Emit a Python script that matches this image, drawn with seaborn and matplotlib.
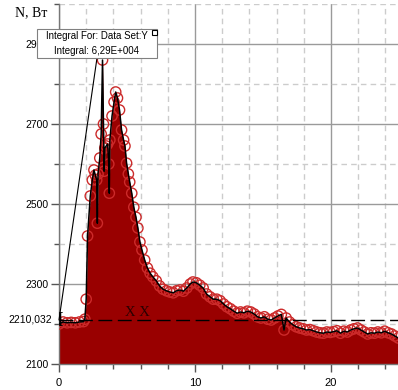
import numpy as np
import pandas as pd
import matplotlib
matplotlib.use("Agg")
import matplotlib.pyplot as plt
import matplotlib.transforms as mtransforms
from matplotlib.patches import Rectangle
import seaborn as sns

# ---- data ----
t_values = [0.0, 0.3, 0.6, 0.9, 1.2, 1.5, 1.8, 1.9, 2.0, 2.1, 2.3, 2.45, 2.57, 2.67,
            2.77, 2.82, 2.87, 3.0, 3.1, 3.2, 3.27, 3.32, 3.37, 3.47, 3.58, 3.66,
            3.7, 3.74, 3.9, 4.05, 4.17, 4.3, 4.45, 4.6, 4.75, 4.85, 4.97, 5.1, 5.2,
            5.35, 5.5, 5.66, 5.8, 5.95, 6.1, 6.3, 6.5, 6.7, 6.9, 7.15, 7.4, 7.65,
            7.9, 8.15, 8.4, 8.65, 8.9, 9.15, 9.4, 9.65, 9.85, 10.1, 10.35, 10.6,
            10.85, 11.1, 11.35, 11.6, 11.85, 12.1, 12.35, 12.6, 12.85, 13.1, 13.35,
            13.6, 13.85, 14.1, 14.35, 14.6, 14.85, 15.1, 15.35, 15.6, 15.85, 16.1,
            16.35, 16.55, 16.7, 16.95, 17.2, 17.45, 17.7, 17.95, 18.2, 18.45, 18.7,
            18.95, 19.2, 19.45, 19.7, 19.95, 20.2, 20.45, 20.7, 20.95, 21.2, 21.45,
            21.7, 21.95, 22.2, 22.45, 22.7, 22.95, 23.2, 23.45, 23.7, 23.95, 24.2,
            24.45, 24.7, 24.95]
n_values = [2200, 2205, 2203, 2204, 2203, 2205, 2206, 2212, 2262, 2420, 2520, 2560,
            2585, 2572, 2560, 2452, 2575, 2615, 2675, 2860, 2700, 2582, 2640, 2645,
            2650, 2600, 2527, 2660, 2720, 2755, 2780, 2765, 2735, 2685, 2660, 2645,
            2602, 2575, 2555, 2527, 2492, 2467, 2440, 2405, 2385, 2360, 2340, 2327,
            2318, 2308, 2295, 2287, 2283, 2280, 2278, 2283, 2285, 2282, 2290, 2300,
            2305, 2303, 2297, 2290, 2275, 2268, 2262, 2262, 2258, 2250, 2243, 2238,
            2232, 2227, 2230, 2228, 2232, 2230, 2225, 2218, 2215, 2218, 2212, 2210,
            2215, 2220, 2224, 2185, 2215, 2205, 2198, 2193, 2190, 2188, 2185, 2186,
            2183, 2180, 2178, 2177, 2180, 2179, 2181, 2183, 2177, 2182, 2180, 2185,
            2188, 2190, 2185, 2180, 2175, 2178, 2177, 2180, 2178, 2182, 2178, 2175,
            2170, 2165]

y_major = [2100, 2300, 2500, 2700, 2900]
y_major_labels = ["2100", "2300", "2500", "2700", "2900"]
y_minor = [2200, 2400, 2600, 2800, 3000]
x_major = [0, 10, 20]
x_major_labels = ["0", "10", "20"]
x_minor = [2, 4, 6, 8, 12, 14, 16, 18, 22, 24]

baseline_value = 2210.032
baseline_label = "2210,032"
y_title = "N, Вт"
annot_line1 = "Integral For: Data Set:Y"
annot_line2 = "Integral: 6,29E+004"
marker_text = "X X"
marker_text_pos = (5.75, 2228)

df = pd.DataFrame({"t": t_values, "N": n_values})

# ---- figure ----
W, H = 398, 390
fig = plt.figure(figsize=(W / 100, H / 100), dpi=100)
ax = fig.add_axes([59 / W, 26 / H, 339 / W, 360 / H])
sans = "Liberation Sans"
serif = "Liberation Serif"

ax.set_xlim(0, 24.93)
ax.set_ylim(2100, 3000)

# grid
ax.set_yticks(y_major)
ax.set_yticks(y_minor, minor=True)
ax.set_xticks(x_major)
ax.set_xticks(x_minor, minor=True)
ax.grid(True, which="major", color="#9a9a9a", lw=1.0, ls="-", zorder=0)
ax.grid(True, which="minor", color="#cccccc", lw=1.0, ls=(0, (4, 3)), zorder=0)
ax.set_axisbelow(True)

# filled area
ax.fill_between(df["t"], 2100, df["N"], color="#990000", lw=0, zorder=2)

# markers and line via seaborn
sns.scatterplot(data=df, x="t", y="N", marker="o", s=55, facecolors="none",
                edgecolor="#cc2a2a", linewidth=1.0, ax=ax, zorder=3, legend=False)
sns.lineplot(data=df, x="t", y="N", color="black", lw=1.1, ax=ax, sort=False,
             estimator=None, zorder=4, legend=False)

# baseline dashed line
ax.axhline(baseline_value, color="black", lw=1.0, ls=(0, (10, 4)), zorder=5)

# tick formatting
ax.set_yticklabels(y_major_labels, fontfamily=sans, fontsize=7.5)
ax.set_xticklabels(x_major_labels, fontfamily=sans, fontsize=8)
ax.tick_params(axis="both", which="major", direction="out", length=6, width=1,
               color="#555555", pad=1.5)
ax.tick_params(axis="both", which="minor", direction="out", length=3.5, width=1,
               color="#555555")
ax.tick_params(axis="x", which="major", pad=4)
ax.set_xlabel("")
ax.set_ylabel("")
for s in ["top", "right"]:
    ax.spines[s].set_visible(False)
for s in ["left", "bottom"]:
    ax.spines[s].set_color("#777777")
    ax.spines[s].set_linewidth(1.0)

# baseline label and bracket
trans = mtransforms.blended_transform_factory(ax.transAxes, ax.transData)
ax.text(-0.02, baseline_value, baseline_label, transform=trans, ha="right",
        va="center", fontfamily=sans, fontsize=7.5, clip_on=False)
ax.text(-0.004, baseline_value, "[", transform=trans, ha="left", va="center",
        fontfamily=serif, fontsize=12, fontweight="bold", clip_on=False, zorder=6)

# "X X" marker
ax.text(marker_text_pos[0], marker_text_pos[1], marker_text, ha="center",
        va="center", fontfamily=serif, fontsize=10.5, color="#2a0000", zorder=6)

# y title
fig.text(15 / W, 1 - 13 / H, y_title, ha="left", va="center",
         fontfamily=serif, fontsize=10)

# annotation leader line
ax.annotate("", xy=(t_values[0], baseline_value), xycoords="data",
            xytext=(97, H - 58), textcoords="figure pixels",
            arrowprops=dict(arrowstyle="-", color="black", lw=0.8,
                            shrinkA=0, shrinkB=0),
            annotation_clip=False, zorder=7)
# annotation box (covers part of the 2900 label, as in the original)
fig.add_artist(Rectangle((37 / W, (H - 58) / H), 120 / W, 29 / H,
                         transform=fig.transFigure, fc="white", ec="#808080",
                         lw=0.8, zorder=8))
fig.text(97 / W, 1 - 36 / H, annot_line1, ha="center", va="center",
         fontfamily=sans, fontsize=7, zorder=9)
fig.text(97 / W, 1 - 51.5 / H, annot_line2, ha="center", va="center",
         fontfamily=sans, fontsize=7, zorder=9)
fig.add_artist(Rectangle((152 / W, (H - 35) / H), 5 / W, 5 / H,
                         transform=fig.transFigure, fc="white", ec="black",
                         lw=0.8, zorder=10))

fig.savefig("out.png", dpi=100)
